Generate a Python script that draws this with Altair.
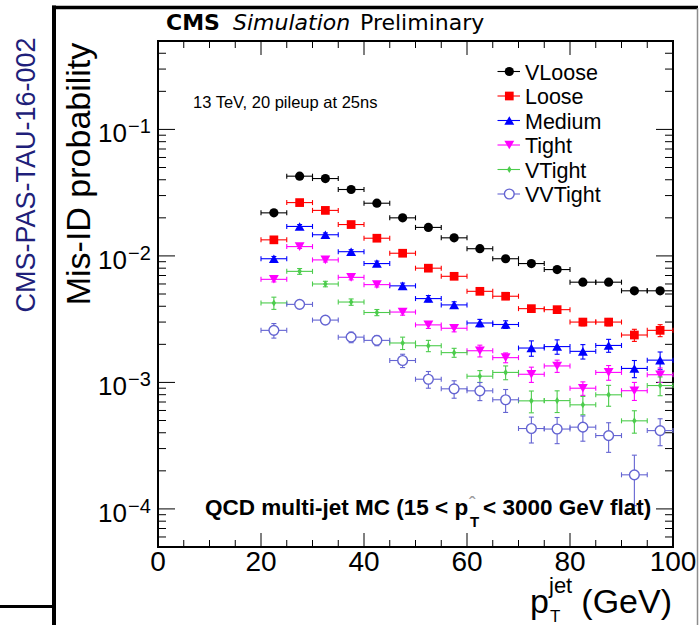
import altair as alt
import pandas as pd

# --- data -----------------------------------------------------------------
pt_low = [20, 25, 30, 35, 40, 45, 50, 55, 60, 65, 70, 75, 80, 85, 90, 95]
pt_high = [25, 30, 35, 40, 45, 50, 55, 60, 65, 70, 75, 80, 85, 90, 95, 100]
pt_center = [22.5, 27.5, 32.5, 37.5, 42.5, 47.5, 52.5, 57.5,
             62.5, 67.5, 72.5, 77.5, 82.5, 87.5, 92.5, 97.5]

vloose = [0.0219, 0.0427, 0.0409, 0.0335, 0.0261, 0.0200, 0.0168, 0.0139,
          0.0114, 0.0095, 0.0087, 0.0078, 0.0062, 0.0062, 0.0053, 0.0053]
vloose_err = [0.0006, 0.0010, 0.0009, 0.0008, 0.0006, 0.0005, 0.0004, 0.0004,
              0.0003, 0.0003, 0.0003, 0.0003, 0.0002, 0.0002, 0.0002, 0.0002]

loose = [0.0134, 0.0264, 0.0229, 0.0177, 0.0138, 0.0105, 0.0080, 0.0069,
         0.00525, 0.0048, 0.00383, 0.00376, 0.0030, 0.0030, 0.00237, 0.00258]
loose_err = [0.0005, 0.0008, 0.0007, 0.0006, 0.0005, 0.0004, 0.0003, 0.0003,
             0.00025, 0.00023, 0.0002, 0.0002, 0.0002, 0.0002, 0.00026, 0.00028]

medium = [0.0095, 0.0171, 0.0147, 0.0108, 0.0087, 0.0058, 0.0046, 0.0041,
          0.00295, 0.00287, 0.00187, 0.00192, 0.00176, 0.00196, 0.00129, 0.0015]
medium_err = [0.0004, 0.0006, 0.0005, 0.0004, 0.0004, 0.0003, 0.00026, 0.00024,
              0.0002, 0.0002, 0.00026, 0.00025, 0.00023, 0.00023, 0.0002, 0.00024]

tight = [0.00653, 0.01185, 0.0093, 0.00677, 0.00593, 0.0036, 0.00285, 0.00268,
         0.00178, 0.00157, 0.00116, 0.00135, 0.0009, 0.0012, 0.00086, 0.00115]
tight_err = [0.0003, 0.0004, 0.00035, 0.0003, 0.00025, 0.0002, 0.00018, 0.00017,
             0.00019, 0.00014, 0.00016, 0.00015, 0.00011, 0.00016, 0.00014, 0.00015]

vtight = [0.00425, 0.00755, 0.0060, 0.00432, 0.00357, 0.00205, 0.00195, 0.00172,
          0.00112, 0.0012, 0.000715, 0.000718, 0.000665, 0.000798, 0.000497, 0.000945]
vtight_err = [0.00047, 0.0004, 0.0003, 0.00025, 0.0002, 0.00023, 0.0002, 0.00014,
              0.00012, 0.00015, 0.00014, 0.00014, 0.00011, 0.00015, 0.0001, 0.00016]

vvtight = [0.00258, 0.00414, 0.00311, 0.00228, 0.00215, 0.00149, 0.00106, 0.00089,
           0.000858, 0.000729, 0.000432, 0.000428, 0.000443, 0.00038, 0.000186, 0.000416]
vvtight_err = [0.00034, 0.0003, 0.00022, 0.00022, 0.0002, 0.00018, 0.00016, 0.00014,
               0.00014, 0.00015, 0.0001, 0.0001, 0.0001, 0.0001, 0.00008, 0.0001]

series_names = ["VLoose", "Loose", "Medium", "Tight", "VTight", "VVTight"]
series_values = [vloose, loose, medium, tight, vtight, vvtight]
series_errors = [vloose_err, loose_err, medium_err, tight_err, vtight_err, vvtight_err]

x_tick_labels = [0, 20, 40, 60, 80, 100]
y_decades = [1e-4, 1e-3, 1e-2, 1e-1]
y_exponents = ["\u22124", "\u22123", "\u22122", "\u22121"]

# --- styling --------------------------------------------------------------
FONT = "Liberation Sans"
W, H = 515, 506
THIN_DIAMOND = "M0,-1L0.62,0L0,1L-0.62,0Z"
styles = {
    "VLoose":  dict(color="#000000", shape="circle", size=85, open=False),
    "Loose":   dict(color="#ff0000", shape="square", size=76, open=False),
    "Medium":  dict(color="#0000ff", shape="triangle-up", size=98, open=False),
    "Tight":   dict(color="#ff00ff", shape="triangle-down", size=98, open=False),
    "VTight":  dict(color="#4ccc4c", shape=THIN_DIAMOND, size=50, open=False),
    "VVTight": dict(color="#6464d2", shape="circle", size=95, open=True),
}

xs = alt.Scale(domain=[0, 100], nice=False, zero=False)
ys = alt.Scale(type="log", domain=[5e-5, 0.5], nice=False)


def X(f):
    return alt.X(f, type="quantitative", scale=xs, axis=None)


def Y(f):
    return alt.Y(f, type="quantitative", scale=ys, axis=None)


one = pd.DataFrame({"k": [0]})


def text(txt, x, y, size, font=FONT, weight="normal", style="normal",
         color="black", align="left", angle=0):
    return alt.Chart(one).mark_text(
        text=txt, font=font, fontSize=size, fontWeight=weight, fontStyle=style,
        color=color, align=align, baseline="alphabetic", angle=angle,
    ).encode(x=alt.value(x), y=alt.value(y))


def hline(x1, x2, y, color="black", width=1.0):
    return alt.Chart(one).mark_rule(color=color, strokeWidth=width).encode(
        x=alt.value(x1), x2=alt.value(x2), y=alt.value(y))


def vline(x, y1, y2, color="black", width=1.0):
    return alt.Chart(one).mark_rule(color=color, strokeWidth=width).encode(
        x=alt.value(x), y=alt.value(y1), y2=alt.value(y2))


def marker(st):
    if st["open"]:
        return dict(shape=st["shape"], size=st["size"], filled=True, fill="white",
                    stroke=st["color"], strokeWidth=1.4, opacity=1)
    return dict(shape=st["shape"], size=st["size"], filled=True,
                color=st["color"], opacity=1, strokeWidth=0)


layers = []

# --- page frame lines -------------------------------------------------------------
layers.append(vline(-104, -35.5, 584, width=4))
layers.append(hline(-106, 540, -33.5, width=3.5))
layers.append(hline(-158, -102, 565.5, width=3))
layers.append(vline(539.5, -33, 584, color="#8c8c8c", width=1.5))

# --- axis ticks (ROOT style, pointing into the frame) -----------------------
y_major = pd.DataFrame({"v": y_decades})
y_minor = pd.DataFrame({"v": [m * 10.0 ** e for e in range(-5, 0) for m in range(2, 10)
                              if 5e-5 < m * 10.0 ** e < 0.5]})
x_major = pd.DataFrame({"v": x_tick_labels})
x_minor = pd.DataFrame({"v": [v for v in range(5, 100, 5) if v % 20 != 0]})

for df, L in [(y_major, 17), (y_minor, 8)]:
    layers.append(alt.Chart(df).mark_rule(color="black", strokeWidth=1).encode(
        y=Y("v"), x=alt.value(0), x2=alt.value(L)))
    layers.append(alt.Chart(df).mark_rule(color="black", strokeWidth=1).encode(
        y=Y("v"), x=alt.value(W - L), x2=alt.value(W)))
for df, L in [(x_major, 14), (x_minor, 7)]:
    layers.append(alt.Chart(df).mark_rule(color="black", strokeWidth=1).encode(
        x=X("v"), y=alt.value(H - L), y2=alt.value(H)))
    layers.append(alt.Chart(df).mark_rule(color="black", strokeWidth=1).encode(
        x=X("v"), y=alt.value(0), y2=alt.value(L)))

# --- axis labels ------------------------------------------------------------
ylab = pd.DataFrame({"v": y_decades, "e": y_exponents})
layers.append(alt.Chart(ylab).mark_text(
    text="10", font=FONT, fontSize=26, align="right", baseline="alphabetic", dy=13,
    color="black").encode(y=Y("v"), x=alt.value(-31)))
layers.append(alt.Chart(ylab).mark_text(
    font=FONT, fontSize=20, align="left", baseline="alphabetic", dy=4,
    color="black").encode(y=Y("v"), x=alt.value(-30), text="e:N"))

xlab = pd.DataFrame({"v": x_tick_labels, "t": [str(v) for v in x_tick_labels]})
layers.append(alt.Chart(xlab).mark_text(
    font=FONT, fontSize=28, align="center", baseline="alphabetic",
    color="black").encode(x=X("v"), y=alt.value(530), text="t:N"))

# --- data series --------------------------------------------------------------
for name, vals, errs in zip(series_names, series_values, series_errors):
    st = styles[name]
    c = st["color"]
    df = pd.DataFrame({
        "c": pt_center, "lo": pt_low, "hi": pt_high, "v": vals,
        "vlo": [v - e for v, e in zip(vals, errs)],
        "vhi": [v + e for v, e in zip(vals, errs)],
    })
    hcap = pd.DataFrame({"x": pt_low + pt_high, "y": vals + vals})
    vcap = pd.DataFrame({"x": pt_center + pt_center,
                         "y": list(df["vlo"]) + list(df["vhi"])})
    layers.append(alt.Chart(df).mark_rule(color=c, strokeWidth=1.1).encode(
        x=X("lo"), x2=alt.X2("hi"), y=Y("v")))
    layers.append(alt.Chart(df).mark_rule(color=c, strokeWidth=1.1).encode(
        x=X("c"), y=Y("vlo"), y2=alt.Y2("vhi")))
    layers.append(alt.Chart(hcap).mark_tick(
        orient="vertical", size=5, thickness=1.1, color=c, opacity=1).encode(
        x=X("x"), y=Y("y")))
    layers.append(alt.Chart(vcap).mark_tick(
        orient="horizontal", size=5, thickness=1.1, color=c, opacity=1).encode(
        x=X("x"), y=Y("y")))
    layers.append(alt.Chart(df).mark_point(**marker(st)).encode(x=X("c"), y=Y("v")))

# --- legend -------------------------------------------------------------------
row0, row_step = 30.5, 24.5
for i, name in enumerate(series_names):
    st = styles[name]
    ry = row0 + i * row_step
    layers.append(hline(339.5, 362, ry, color=st["color"], width=1.1))
    layers.append(alt.Chart(one).mark_point(**marker(st)).encode(
        x=alt.value(351.3), y=alt.value(ry)))
    layers.append(text(name, 367, ry + 8, 21.5))

# --- annotations ----------------------------------------------------------------
layers.append(text("CMS", 8, -11.5, 22, font="DejaVu Sans", weight="bold"))
layers.append(text("Simulation", 75, -11.5, 22, font="DejaVu Sans", style="italic"))
layers.append(text("Preliminary", 202, -11.5, 22, font="DejaVu Sans"))
layers.append(text("13 TeV, 20 pileup at 25ns", 35, 67, 16.5))

layers.append(text("QCD multi-jet MC (15 < p", 47, 474, 22.5, weight="bold"))
layers.append(text("T", 312, 486, 15, weight="bold"))
layers.append(text("\u02c6", 311, 470, 20, color="#9a9a9a"))
layers.append(text(" < 3000 GeV flat)", 325, 474, 22.5, weight="bold"))

layers.append(text("Mis-ID probability", -68, 133, 34, align="center", angle=270))
layers.append(text("p", 372, 572, 34))
layers.append(text("jet", 391, 552, 22))
layers.append(text("T", 392, 581, 17))
layers.append(text("(GeV)", 514, 572, 34, align="right"))

layers.append(text("CMS-PAS-TAU-16-002", -123, 134, 27, color="#1f1f7a",
                   align="center", angle=270))

chart = alt.layer(*layers).properties(
    width=W, height=H,
    autosize=alt.AutoSizeParams(type="none"),
    padding={"left": 158, "top": 41, "right": 26, "bottom": 78},
    background="white",
).configure_view(stroke="black", strokeWidth=2)

chart.save("out.html", embed_options={"renderer": "svg", "actions": False})
